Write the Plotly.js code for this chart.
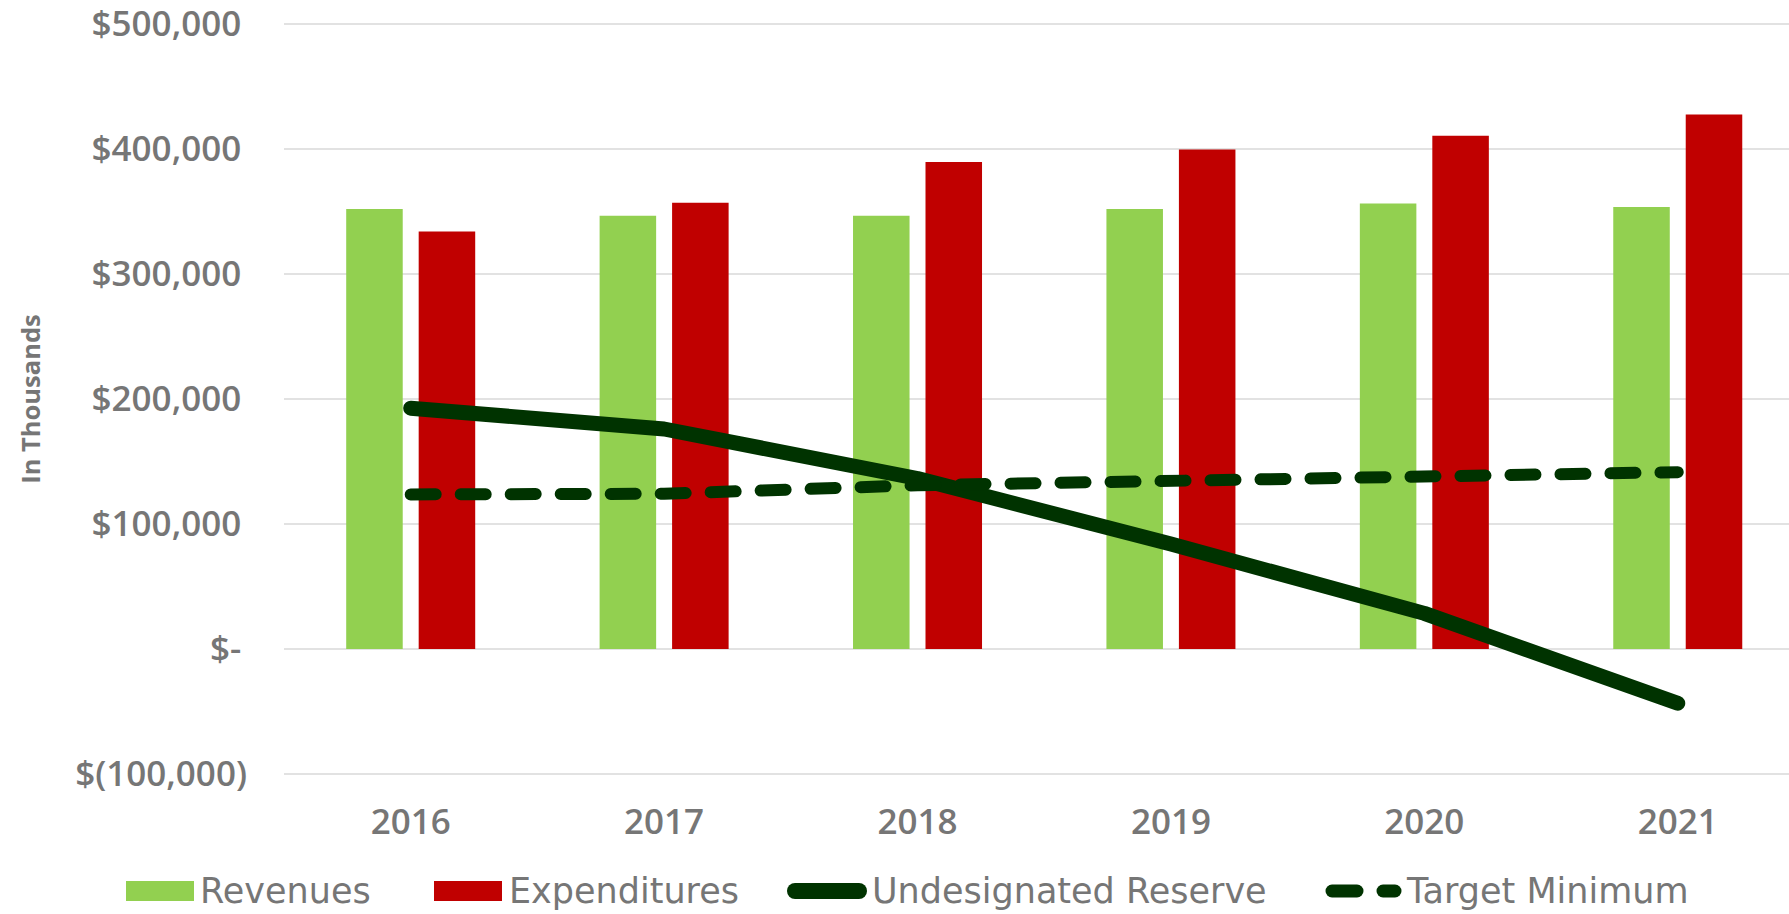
<!DOCTYPE html>
<html>
<head>
<meta charset="utf-8">
<script src="https://cdn.plot.ly/plotly-3.0.1.min.js"></script>
<style>
  html, body { margin: 0; padding: 0; background: #ffffff; }
  #chart { width: 1789px; height: 914px; }
  .scatterlayer .js-line { stroke-linecap: round !important; stroke-linejoin: round !important; }
  .shapelayer path { stroke-linecap: round !important; }
</style>
</head>
<body>
<div id="chart"></div>
<script>
// ---- Data (in thousands of dollars) ----
const years = ['2016', '2017', '2018', '2019', '2020', '2021'];
const revenues = [352000, 346700, 346700, 352000, 356500, 353600];
const expenditures = [334000, 357000, 389600, 399700, 410700, 427700];
const undesignatedReserve = [192600, 176000, 136400, 84000, 28500, -43400];
const targetMinimum = [123700, 124200, 131000, 135000, 138500, 141500];

const yTickVals = [-100000, 0, 100000, 200000, 300000, 400000, 500000];
const yTickText = ['$(100,000)', '$-\u2009', '$100,000\u2009', '$200,000\u2009', '$300,000\u2009', '$400,000\u2009', '$500,000\u2009'];

const seriesNames = ['Revenues', 'Expenditures', 'Undesignated Reserve', 'Target Minimum'];

// ---- Styling ----
const GREEN = '#92D050';
const RED = '#C00000';
const DARK = '#003300';
const GREY = '#767676';

// Layout geometry (pixels)
const W = 1789, H = 914;
const M = { l: 284, r: 0, t: 20, b: 136 };
const plotW = W - M.l - M.r, plotH = H - M.t - M.b;
const px = x => (x - M.l) / plotW;          // pixel x -> paper x
const py = y => (H - M.b - y) / plotH;      // pixel y -> paper y

const traces = [
  { type: 'bar', name: seriesNames[0], x: years, y: revenues,
    marker: { color: GREEN }, showlegend: false },
  { type: 'bar', name: seriesNames[1], x: years, y: expenditures,
    marker: { color: RED }, showlegend: false },
  { type: 'scatter', mode: 'lines', name: seriesNames[2], x: years, y: undesignatedReserve,
    line: { color: DARK, width: 15 }, showlegend: false },
  { type: 'scatter', mode: 'lines', name: seriesNames[3], x: years, y: targetMinimum,
    line: { color: DARK, width: 12, dash: '25px,25px' }, showlegend: false }
];

// ---- Custom legend (layout only) ----
const legY = 891;
const shapes = [
  { type: 'rect', xref: 'paper', yref: 'paper', x0: px(126), x1: px(194), y0: py(legY - 10), y1: py(legY + 10),
    fillcolor: GREEN, line: { width: 0 } },
  { type: 'rect', xref: 'paper', yref: 'paper', x0: px(434), x1: px(502), y0: py(legY - 10), y1: py(legY + 10),
    fillcolor: RED, line: { width: 0 } },
  { type: 'line', xref: 'paper', yref: 'paper', x0: px(795), x1: px(859), y0: py(legY), y1: py(legY),
    line: { color: DARK, width: 16 } },
  { type: 'line', xref: 'paper', yref: 'paper', x0: px(1332), x1: px(1357), y0: py(legY), y1: py(legY),
    line: { color: DARK, width: 13 } },
  { type: 'line', xref: 'paper', yref: 'paper', x0: px(1383), x1: px(1395), y0: py(legY), y1: py(legY),
    line: { color: DARK, width: 13 } }
];
const legendTextX = [198, 507, 870, 1404];
const legendFont = { family: 'DejaVu Sans, sans-serif', size: 35, color: GREY };
const annotations = seriesNames.map((name, i) => ({
  xref: 'paper', yref: 'paper', x: px(legendTextX[i]), y: py(legY),
  xanchor: 'left', yanchor: 'middle', text: name, showarrow: false, font: legendFont
}));

const tickFont = { family: 'Open Sans, sans-serif', size: 35, color: GREY, weight: 600 };

const layout = {
  width: W, height: H,
  margin: M,
  paper_bgcolor: '#ffffff', plot_bgcolor: '#ffffff',
  barmode: 'group', bargap: 0.428, bargroupgap: 0.22,
  showlegend: false,
  xaxis: {
    type: 'category', range: [-0.5, 5.439], fixedrange: true,
    showgrid: false, zeroline: false, showline: false, ticks: '',
    tickfont: tickFont, ticklabelstandoff: 20, ticklabeloverflow: 'allow'
  },
  yaxis: {
    range: [-103200, 503200], fixedrange: true,
    tickmode: 'array', tickvals: yTickVals, ticktext: yTickText,
    showgrid: true, gridcolor: '#e2e2e2', gridwidth: 2,
    zeroline: false, showline: false, ticks: '',
    tickfont: tickFont, ticklabelstandoff: 36, ticklabeloverflow: 'allow',
    title: { text: 'In Thousands', standoff: 27,
      font: { family: 'Open Sans, sans-serif', size: 25.5, color: GREY, weight: 700 } },
    automargin: false
  },
  shapes: shapes,
  annotations: annotations
};

Plotly.newPlot('chart', traces, layout, { staticPlot: true, displayModeBar: false });
</script>
</body>
</html>
